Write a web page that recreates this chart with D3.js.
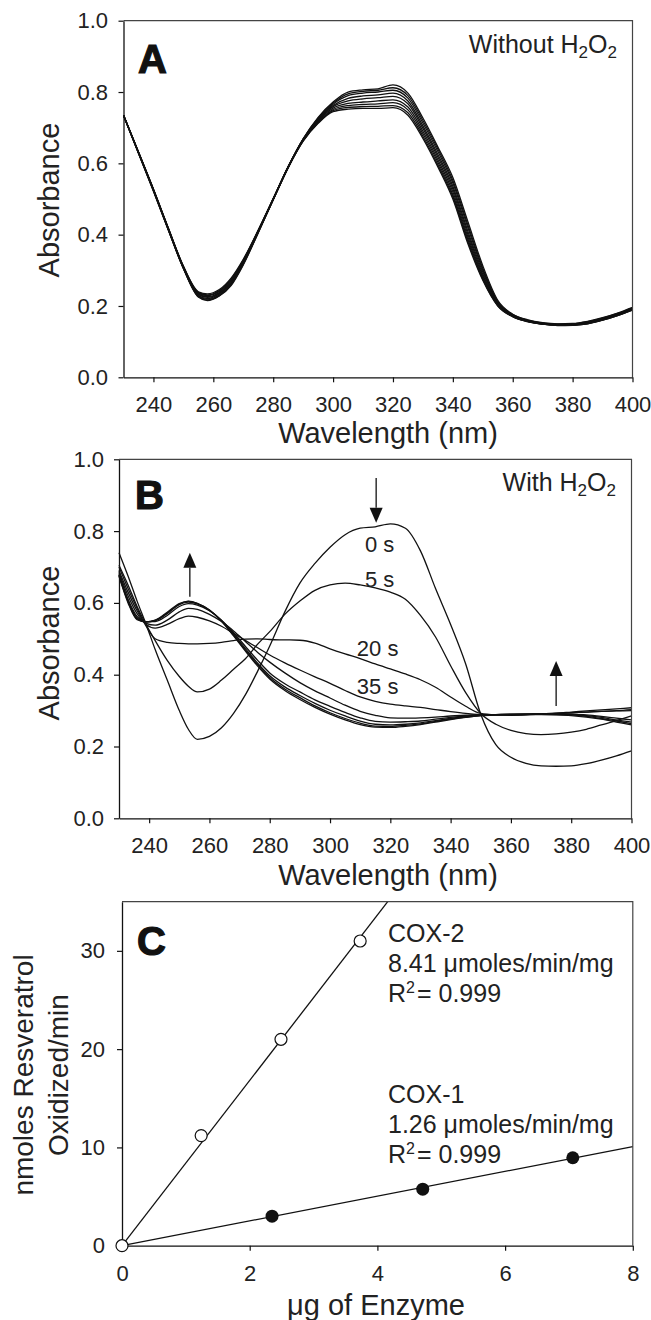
<!DOCTYPE html>
<html>
<head>
<meta charset="utf-8">
<script src="https://cdn.jsdelivr.net/npm/d3@7"></script>
<style>
body { margin: 0; background: #fff; }
svg { display: block; font-family: "Liberation Sans", Arial, sans-serif; }
</style>
</head>
<body>
<svg id="fig" width="651" height="1320"></svg>
<script>
// ---- panel A: spectra without H2O2 ----
var wlA = [230,235,240,245,250,255,258,262,266,270,275,280,285,290,295,300,305,310,315,320,325,330,335,340,345,350,355,360,365,370,375,380,385,390,395,400]
var specA1 = [.735,.632,.528,.418,.312,.240,.234,.246,.279,.331,.413,.501,.591,.669,.729,.772,.800,.806,.809,.820,.797,.727,.646,.560,.437,.313,.216,.177,.161,.153,.150,.151,.157,.167,.180,.196]
var specA2 = [.735,.632,.527,.417,.311,.238,.231,.243,.276,.329,.412,.501,.591,.668,.727,.769,.795,.802,.805,.812,.790,.720,.640,.552,.428,.306,.213,.176,.160,.152,.149,.150,.156,.166,.179,.195]
var specA3 = [.735,.631,.527,.417,.310,.236,.229,.241,.273,.327,.411,.500,.590,.668,.725,.766,.790,.797,.800,.805,.783,.713,.633,.545,.420,.301,.210,.175,.159,.151,.148,.149,.155,.165,.178,.194]
var specA4 = [.735,.631,.526,.416,.309,.234,.226,.238,.270,.325,.410,.500,.590,.667,.723,.762,.782,.789,.792,.797,.775,.705,.625,.536,.410,.295,.208,.174,.158,.151,.148,.148,.154,.164,.177,.193]
var specA5 = [.735,.630,.525,.415,.308,.232,.224,.236,.267,.323,.409,.499,.589,.666,.721,.759,.775,.781,.784,.788,.767,.698,.618,.528,.402,.289,.206,.173,.158,.150,.147,.148,.153,.163,.176,.192]
var specA6 = [.735,.630,.525,.414,.307,.230,.221,.234,.265,.321,.408,.499,.589,.665,.719,.755,.768,.772,.775,.778,.758,.690,.610,.520,.394,.284,.204,.172,.157,.150,.147,.147,.152,.162,.175,.191]
var specA7 = [.735,.629,.524,.413,.306,.228,.219,.231,.262,.319,.407,.498,.588,.664,.716,.751,.762,.765,.767,.770,.750,.683,.603,.512,.387,.279,.202,.171,.157,.149,.146,.147,.151,.161,.174,.190]
var specA8 = [.735,.629,.523,.413,.306,.226,.217,.229,.260,.317,.406,.498,.588,.663,.714,.748,.757,.759,.760,.762,.742,.676,.596,.506,.381,.275,.201,.170,.156,.149,.146,.146,.150,.160,.173,.189]
var specA9 = [.735,.628,.522,.412,.305,.225,.215,.228,.258,.315,.405,.498,.588,.662,.712,.745,.752,.754,.754,.756,.735,.670,.590,.500,.375,.272,.200,.170,.156,.149,.145,.146,.150,.160,.173,.188]

// ---- panel B: spectra with H2O2 ----
var wlB = [230,233,236,239,242,246,250,253,256,260,264,268,272,276,280,285,290,295,300,305,310,315,320,325,330,335,340,345,350,355,360,365,370,375,380,385,390,395,400]
var specB0 = [.740,.675,.605,.540,.470,.385,.300,.248,.220,.228,.252,.292,.345,.410,.480,.575,.655,.710,.755,.790,.808,.812,.820,.808,.745,.640,.540,.430,.290,.205,.170,.153,.146,.145,.146,.152,.162,.174,.188]
var specB5 = [.705,.650,.590,.540,.495,.440,.395,.368,.352,.360,.385,.415,.445,.485,.520,.568,.605,.635,.650,.655,.650,.642,.630,.610,.565,.505,.425,.350,.292,.262,.245,.236,.233,.235,.240,.248,.260,.272,.285]
var specB20 = [.700,.640,.585,.535,.500,.490,.487,.486,.486,.487,.490,.495,.499,.500,.498,.497,.496,.488,.472,.458,.445,.430,.416,.402,.386,.365,.338,.312,.292,.288,.287,.288,.290,.292,.294,.296,.298,.300,.303]
var specB35 = [.690,.630,.578,.540,.530,.540,.556,.563,.560,.550,.535,.515,.495,.475,.455,.433,.413,.394,.376,.356,.338,.326,.318,.313,.309,.303,.297,.292,.289,.288,.288,.289,.291,.293,.296,.299,.302,.305,.308]
var specBF1 = [.685,.620,.570,.543,.538,.552,.575,.585,.582,.568,.548,.522,.492,.462,.435,.405,.378,.355,.335,.315,.298,.287,.280,.279,.280,.282,.285,.287,.289,.289,.289,.290,.291,.292,.294,.296,.298,.299,.300]
var specBF2 = [.680,.610,.562,.548,.548,.565,.590,.598,.594,.578,.552,.517,.478,.440,.405,.375,.352,.330,.312,.295,.280,.270,.268,.269,.271,.276,.281,.285,.288,.289,.290,.290,.291,.291,.290,.288,.284,.279,.274]
var specBF3 = [.678,.606,.558,.547,.550,.570,.595,.602,.597,.579,.551,.513,.472,.432,.397,.366,.342,.320,.301,.285,.271,.262,.260,.262,.266,.272,.278,.283,.287,.289,.290,.290,.290,.290,.289,.286,.281,.274,.268]
var specBF4 = [.676,.603,.555,.547,.551,.572,.597,.604,.598,.580,.550,.510,.468,.428,.392,.360,.336,.313,.294,.278,.265,.257,.256,.259,.263,.270,.276,.282,.286,.288,.289,.290,.290,.289,.288,.284,.278,.271,.264]
var specBF5 = [.674,.600,.553,.547,.552,.574,.598,.605,.599,.580,.549,.508,.465,.424,.388,.356,.331,.309,.290,.274,.261,.254,.253,.256,.261,.268,.275,.281,.286,.288,.289,.289,.289,.288,.286,.282,.276,.268,.260]
var timeLabels = ['0 s', '5 s', '20 s', '35 s']
// arrows: wavelength, tail absorbance, tip absorbance
var arrowNm = [315.3, 253.5, 375]
var arrowFrom = [0.948, 0.617, 0.313]
var arrowTo = [0.823, 0.740, 0.438]

// ---- panel C: rates ----
var doseCox2 = [0, 1.24, 2.49, 3.73]
var rateCox2 = [0, 11.2, 21.0, 31.0]
var doseCox1 = [2.35, 4.71, 7.06]
var rateCox1 = [3.0, 5.75, 8.95]
var slopeCox2 = 8.41, slopeCox1 = 1.26
var textCox2 = ['COX-2', '8.41 \u03bcmoles/min/mg', '0.999']
var textCox1 = ['COX-1', '1.26 \u03bcmoles/min/mg', '0.999']

var wlTicks = [240,260,280,300,320,340,360,380,400]
var absTicks = [0, 0.2, 0.4, 0.6, 0.8, 1.0]

var svg = d3.select('#fig')
var ink = '#111'

function axes(box, x, y, xTicks, yTicks, yFmt, xPad, yPad) {
  var g = svg.append('g')
  g.append('g')
    .attr('transform', 'translate(0,' + box.bottom + ')')
    .call(d3.axisBottom(x).tickValues(xTicks).tickSize(5).tickSizeOuter(0).tickPadding(xPad))
  g.append('g')
    .attr('transform', 'translate(' + box.left + ',0)')
    .call(d3.axisLeft(y).tickValues(yTicks).tickSize(5).tickSizeOuter(0).tickPadding(yPad).tickFormat(yFmt))
  g.selectAll('.tick text').attr('font-size', 22).attr('fill', '#222').attr('font-family', null)
  g.selectAll('.tick line').attr('stroke', ink).attr('stroke-width', 1.2)
  g.selectAll('.domain').attr('stroke', ink).attr('stroke-width', 1.3)
  g.selectAll('g').attr('font-family', null).attr('font-size', null)
  // top and right frame
  g.append('path')
    .attr('d', 'M' + box.left + ',' + box.top + 'H' + box.right + 'V' + box.bottom)
    .attr('fill', 'none').attr('stroke', '#444').attr('stroke-width', 1.2)
}

function letter(t, x, y) {
  svg.append('text').attr('x', x).attr('y', y).text(t)
    .attr('font-size', 40).attr('font-weight', 'bold')
    .attr('fill', '#111').attr('stroke', '#111').attr('stroke-width', 1.2)
}

function h2o2(prefix, xr, y) {
  var t = svg.append('text').attr('x', xr).attr('y', y)
    .attr('text-anchor', 'end').attr('font-size', 25).attr('fill', '#222')
  t.append('tspan').text(prefix + ' H')
  t.append('tspan').text('2').attr('font-size', 17).attr('dy', 5)
  t.append('tspan').text('O').attr('dy', -5)
  t.append('tspan').text('2').attr('font-size', 17).attr('dy', 5)
}

function yTitle(lines, xs, cy, size) {
  lines.forEach(function(s, i) {
    svg.append('text').attr('transform', 'translate(' + xs[i] + ',' + cy + ') rotate(-90)')
      .attr('text-anchor', 'middle').attr('font-size', size).attr('fill', '#222').text(s)
  })
}

function xTitle(s, cx, y) {
  svg.append('text').attr('x', cx).attr('y', y).attr('text-anchor', 'middle')
    .attr('font-size', 29).attr('fill', '#222').text(s)
}

function spectra(list, wl, x, y, w) {
  var line = d3.line()
    .x(function(d, i) { return x(wl[i]) })
    .y(function(d) { return y(d) })
    .curve(d3.curveMonotoneX)
  svg.append('g').selectAll('path').data(list).enter().append('path')
    .attr('d', line).attr('fill', 'none').attr('stroke', ink).attr('stroke-width', w)
}

// ---------- A ----------
var boxA = {left: 123.5, right: 632.5, top: 20.7, bottom: 377.3}
var xA = d3.scaleLinear().domain([230, 400]).range([boxA.left, boxA.right])
var yA = d3.scaleLinear().domain([0, 1]).range([boxA.bottom, boxA.top])
spectra([specA1, specA2, specA3, specA4, specA5, specA6, specA7, specA8, specA9], wlA, xA, yA, 1.3)
axes(boxA, xA, yA, wlTicks, absTicks, d3.format('.1f'), 14, 10.5)
letter('A', 138, 73)
h2o2('Without', 617, 53)
yTitle(['Absorbance'], [59], 200, 29)
xTitle('Wavelength (nm)', 388, 443)

// ---------- B ----------
var boxB = {left: 119, right: 631.5, top: 459.3, bottom: 818.3}
var xB = d3.scaleLinear().domain([230, 400]).range([boxB.left, boxB.right])
var yB = d3.scaleLinear().domain([0, 1]).range([boxB.bottom, boxB.top])
spectra([specB0, specB5, specB20, specB35, specBF1, specBF2, specBF3, specBF4, specBF5], wlB, xB, yB, 1.3)
axes(boxB, xB, yB, wlTicks, absTicks, d3.format('.1f'), 14, 10)
letter('B', 135, 509)
h2o2('With', 616, 491)
yTitle(['Absorbance'], [59], 643, 29)
xTitle('Wavelength (nm)', 388, 885)

var labelNm = [311.6, 311.6, 308.9, 308.9]
var labelAbs = [0.742, 0.644, 0.452, 0.346]
svg.append('g').selectAll('text').data(timeLabels).enter().append('text')
  .attr('x', function(d, i) { return xB(labelNm[i]) })
  .attr('y', function(d, i) { return yB(labelAbs[i]) })
  .attr('font-size', 22).attr('fill', '#222').text(function(d) { return d })

arrowNm.forEach(function(nm, i) {
  var ax = xB(nm), y0 = yB(arrowFrom[i]), y1 = yB(arrowTo[i])
  var dir = y1 > y0 ? 1 : -1
  var head = 15, hw = 6.5
  svg.append('line').attr('x1', ax).attr('x2', ax).attr('y1', y0).attr('y2', y1 - dir * head)
    .attr('stroke', ink).attr('stroke-width', 1.3)
  svg.append('path')
    .attr('d', 'M' + ax + ',' + y1 + 'L' + (ax - hw) + ',' + (y1 - dir * head) + 'L' + (ax + hw) + ',' + (y1 - dir * head) + 'Z')
    .attr('fill', ink)
})

// ---------- C ----------
var boxC = {left: 122, right: 632.8, top: 901.7, bottom: 1245.7}
var xC = d3.scaleLinear().domain([0, 8]).range([boxC.left, boxC.right])
var yC = d3.scaleLinear().domain([0, 35]).range([boxC.bottom, boxC.top])

;[slopeCox2, slopeCox1].forEach(function(s) {
  var xe = Math.min(8, 35 / s)
  svg.append('line').attr('x1', xC(0)).attr('y1', yC(0)).attr('x2', xC(xe)).attr('y2', yC(s * xe))
    .attr('stroke', ink).attr('stroke-width', 1.3)
})
axes(boxC, xC, yC, [0, 2, 4, 6, 8], [0, 10, 20, 30], d3.format('d'), 15, 12)

svg.append('g').selectAll('circle').data(doseCox1).enter().append('circle')
  .attr('cx', function(d) { return xC(d) })
  .attr('cy', function(d, i) { return yC(rateCox1[i]) })
  .attr('r', 6.5).attr('fill', ink)
svg.append('g').selectAll('circle').data(doseCox2).enter().append('circle')
  .attr('cx', function(d) { return xC(d) })
  .attr('cy', function(d, i) { return yC(rateCox2[i]) })
  .attr('r', 6).attr('fill', '#fff').attr('stroke', ink).attr('stroke-width', 1.2)

function coxBlock(lines, x, y0) {
  lines.forEach(function(s, i) {
    var t = svg.append('text').attr('x', x).attr('y', y0 + i * 30)
      .attr('font-size', 25).attr('fill', '#222')
    if (i < 2) { t.text(s); return }
    t.append('tspan').text('R')
    t.append('tspan').text('2').attr('font-size', 16).attr('dy', -9)
    t.append('tspan').text('= ' + s).attr('dy', 9).attr('dx', 2)
  })
}
coxBlock(textCox2, 388, 942)
coxBlock(textCox1, 388, 1103)

letter('C', 137, 955)
yTitle(['nmoles Resveratrol', 'Oxidized/min'], [33, 68], 1075, 28)
xTitle('\u03bcg of Enzyme', 376, 1315)
</script>
</body>
</html>
